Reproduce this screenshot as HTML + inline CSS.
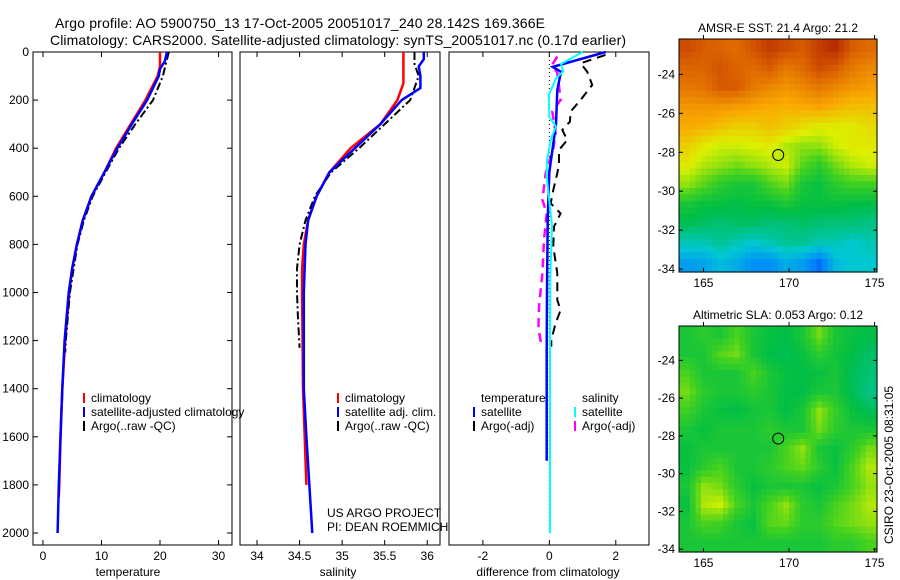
<!DOCTYPE html>
<html><head><meta charset="utf-8"><style>
html,body{margin:0;padding:0;background:#fff;}
svg{display:block;font-family:"Liberation Sans",sans-serif;}
</style></head><body>
<svg id="fig" width="900" height="580" viewBox="0 0 900 580"></svg>
<script>
// ---- profile data (depth arrays + value arrays) ----
const tClimDepth=[0,60,100,200,300,400,500,600,700,800,900,1000,1200,1400,1600,1800,1850];
const tClimVal=[20,20,19.6,17.5,15,12.5,10.5,8.3,6.8,5.8,5,4.5,3.8,3.3,3,2.8,2.7];
const tSatDepth=[0,40,70,100,200,300,400,500,600,700,800,900,1000,1200,1400,1600,1800,2000];
const tSatVal=[21.2,20.8,20,19.8,17.8,15.2,12.7,10.5,8.3,6.8,5.8,5,4.4,3.7,3.3,3,2.7,2.5];
const tArgoDepth=[0,100,200,300,400,500,600,700,800,1000,1200,1250];
const tArgoVal=[21.5,20.5,18.8,15.8,13,10.7,8.5,7,5.9,4.6,3.9,3.8];
const sClimDepth=[0,130,200,300,400,500,600,700,800,900,1000,1400,1800];
const sClimVal=[35.72,35.72,35.65,35.45,35.1,34.85,34.7,34.6,34.55,34.53,34.53,34.54,34.58];
const sSatDepth=[0,30,60,100,150,200,300,400,500,600,700,800,1000,1400,1600,2000];
const sSatVal=[35.96,35.96,35.9,35.92,35.92,35.7,35.45,35.15,34.85,34.7,34.6,34.57,34.55,34.55,34.58,34.65];
const sArgoDepth=[0,50,100,200,300,400,500,600,700,800,900,1000,1100,1230];
const sArgoVal=[35.85,35.85,35.9,35.8,35.5,35.2,34.87,34.68,34.57,34.5,34.47,34.47,34.48,34.5];
const dTSatDepth=[0,62,82,158,300,500,700,1000,1250,1700];
const dTSatVal=[1.7,0.1,0.35,0.24,0.2,0,-0.05,-0.07,-0.08,-0.08];
const dSSatDepth=[0,50,80,110,180,270,310,360,450,520,720,940,1200,2000];
const dSSatVal=[1.0,0.35,0.42,0.2,-0.02,0,0.2,0.05,-0.07,-0.08,0.08,0.03,0.02,0.02];
const dTArgoDepth=[12,47,82,137,199,248,290,324,366,407,463,504,574,629,671,726,809,920,1031,1073,1128,1197,1225];
const dTArgoVal=[1.69,0.94,1.14,1.29,0.94,0.64,0.62,0.39,0.54,0.29,0.29,0.24,0.12,0.04,0.34,0.14,0.12,0.24,0.24,0.34,0.19,0.06,0.06];
const dSArgoDepth=[19,52,87,142,199,248,338,400,504,615,671,781,920,1058,1150,1218];
const dSArgoVal=[0.24,0.09,0.24,0.29,0.34,0.09,0.19,0.12,-0.11,-0.21,-0.08,-0.16,-0.21,-0.31,-0.33,-0.24];
const depthTicks=[0,200,400,600,800,1000,1200,1400,1600,1800,2000];
const tempTicks=[0,10,20,30];
const salTicks=[34,34.5,35,35.5,36];
const diffTicks=[-2,0,2];
// ---- map data (rows = lat from -22.2 southwards, cols = lon 163.6..175.1) ----
const sstGrid=[
[.88,.86,.85,.84,.87,.9,.88,.86,.9,.92,.86,.84],
[.85,.85,.87,.85,.84,.86,.82,.84,.88,.86,.82,.80],
[.82,.83,.86,.86,.82,.8,.78,.8,.82,.8,.78,.77],
[.78,.78,.78,.77,.76,.75,.74,.75,.76,.74,.72,.72],
[.75,.74,.72,.7,.7,.72,.7,.68,.66,.66,.66,.68],
[.7,.66,.64,.64,.65,.66,.62,.6,.6,.64,.66,.66],
[.66,.62,.6,.58,.6,.62,.64,.56,.52,.58,.62,.64],
[.6,.56,.52,.5,.5,.55,.58,.5,.48,.52,.54,.54],
[.5,.48,.48,.47,.48,.48,.5,.48,.48,.48,.47,.47],
[.46,.45,.44,.45,.45,.44,.44,.45,.44,.44,.44,.43],
[.40,.40,.42,.40,.38,.4,.42,.42,.4,.4,.38,.4],
[.32,.33,.36,.34,.3,.3,.34,.32,.26,.36,.38,.38]];
const slaGrid=[
[.5,.52,.5,.55,.5,.48,.47,.5,.58,.5,.48,.47],
[.5,.5,.56,.58,.5,.47,.46,.48,.52,.49,.47,.45],
[.55,.5,.5,.5,.55,.5,.48,.47,.48,.5,.46,.44],
[.58,.52,.5,.5,.52,.5,.47,.47,.5,.5,.46,.43],
[.54,.5,.48,.47,.49,.5,.47,.5,.6,.53,.48,.46],
[.5,.48,.5,.5,.5,.52,.5,.5,.58,.52,.5,.5],
[.48,.5,.5,.5,.5,.5,.55,.6,.5,.48,.52,.58],
[.48,.52,.55,.5,.5,.52,.55,.57,.52,.48,.55,.62],
[.5,.6,.58,.52,.48,.5,.5,.5,.48,.5,.55,.6],
[.48,.62,.64,.55,.5,.55,.6,.52,.5,.55,.58,.62],
[.5,.55,.54,.5,.48,.56,.57,.52,.52,.56,.58,.6],
[.5,.5,.5,.5,.5,.5,.5,.5,.5,.52,.52,.55]];
const mapLon=[163.57,175.14], mapLat=[-22.18,-34.15];
const floatLon=169.366, floatLat=-28.142;
const lonTicks=[165,170,175];
const latTicks=[-24,-26,-28,-30,-32,-34];

const NS="http://www.w3.org/2000/svg";
const svg=document.getElementById('fig');
function el(tag,attrs,parent){const e=document.createElementNS(NS,tag);for(const k in attrs)e.setAttribute(k,attrs[k]);(parent||svg).appendChild(e);return e;}
function txt(x,y,s,size,anchor,parent){const t=el('text',{x:x,y:y,'font-size':size,'text-anchor':anchor||'start',fill:'#000'},parent);t.textContent=s;return t;}

const top0=52, pBottom=545;
const yD=d=>top0+d*0.2405;
const panels=[
 {name:'temperature-panel',x0:33,x1:232,vmin:-1.7,vmax:32.3,ticks:tempTicks,label:'temperature',lx:128},
 {name:'salinity-panel',x0:240,x1:440,vmin:33.8,vmax:36.15,ticks:salTicks,label:'salinity',lx:338},
 {name:'difference-panel',x0:449,x1:649,vmin:-3.02,vmax:3.0,ticks:diffTicks,label:'difference from climatology',lx:548}
];
panels.forEach(p=>{p.xs=v=>p.x0+(v-p.vmin)/(p.vmax-p.vmin)*(p.x1-p.x0);});

// titles
let t=txt(55,28,'Argo profile: AO 5900750_13 17-Oct-2005 20051017_240 28.142S 169.366E',14);
t.setAttribute('textLength','490');
t=txt(50,45,'Climatology: CARS2000. Satellite-adjusted climatology: synTS_20051017.nc (0.17d earlier)',14);
t.setAttribute('textLength','576');

panels.forEach((p,i)=>{
  const g=el('g',{});
  
  
  el('rect',{x:p.x0,y:top0,width:p.x1-p.x0,height:pBottom-top0,fill:'#fff',stroke:'#000','stroke-width':1},g);
  p.ticks.forEach(v=>{const x=p.xs(v);
    el('line',{x1:x,y1:pBottom,x2:x,y2:pBottom-5,stroke:'#000'},g);
    el('line',{x1:x,y1:top0,x2:x,y2:top0+5,stroke:'#000'},g);
    const tl=txt(x,560,String(v),12,'middle',g);
    
    
  });
  const xl=txt(p.lx,576,p.label,12,'middle',g);
  
  
  if(i===0){depthTicks.forEach(d=>{const y=yD(d);
    el('line',{x1:p.x0,y1:y,x2:p.x0+5,y2:y,stroke:'#000'},g);
    el('line',{x1:p.x1,y1:y,x2:p.x1-5,y2:y,stroke:'#000'},g);
    const yl=txt(p.x0-4,y+4,String(d),12,'end',g);
    
    
  });}
});
function line(p,D,V,color,w,dash,name){
  const pts=D.map((d,i)=>p.xs(V[i]).toFixed(1)+','+yD(d).toFixed(1)).join(' ');
  const l=el('polyline',{points:pts,fill:'none',stroke:color,'stroke-width':w});
  if(dash)l.setAttribute('stroke-dasharray',dash);
  
  
}
const [P1,P2,P3]=panels;
line(P1,tClimDepth,tClimVal,'#f00',2.5,null,'temp-climatology-line');
line(P1,tArgoDepth,tArgoVal,'#000',2,'8,3,2,3','temp-argo-line');
line(P1,tSatDepth,tSatVal,'#00f',2.5,null,'temp-satellite-line');
line(P2,sClimDepth,sClimVal,'#f00',2.5,null,'sal-climatology-line');
line(P2,sArgoDepth,sArgoVal,'#000',2,'8,3,2,3','sal-argo-line');
line(P2,sSatDepth,sSatVal,'#00f',2.5,null,'sal-satellite-line');
line(P3,[0,2000],[0,0],'#000',1,'1,3','zero-line');
line(P3,dTArgoDepth,dTArgoVal,'#000',2,'9,6','diff-temp-argo-line');
line(P3,dSArgoDepth,dSArgoVal,'#f0f',2.5,'9,6','diff-sal-argo-line');
line(P3,dTSatDepth,dTSatVal,'#00f',2.5,null,'diff-temp-satellite-line');
line(P3,dSSatDepth,dSSatVal,'#0ff',2,null,'diff-sal-satellite-line');

function legend(x,y,color,label){
  const g=el('g',{});
  
  
  el('line',{x1:x,y1:y-9,x2:x,y2:y+1,stroke:color,'stroke-width':2},g);
  txt(x+7,y,label,12,'start',g);
}
legend(84,402,'#f00','climatology');
legend(84,416,'#00f','satellite-adjusted climatology');
legend(84,430,'#000','Argo(..raw -QC)');
legend(338,402,'#f00','climatology');
legend(338,416,'#00f','satellite adj. clim.');
legend(338,430,'#000','Argo(..raw -QC)');
t=txt(481,402,'temperature',12);
t=txt(582,402,'salinity',12);
legend(474,416,'#00f','satellite');
legend(474,430,'#000','Argo(-adj)');
legend(575,416,'#0ff','satellite');
legend(575,430,'#f0f','Argo(-adj)');
t=txt(327,517,'US ARGO PROJECT',12);
t=txt(327,531,'PI: DEAN ROEMMICH',12);

// colormap
const stops=[[0.2,[0,60,230]],[0.28,[0,130,255]],[0.38,[0,200,210]],[0.47,[0,190,70]],[0.55,[70,210,30]],[0.65,[220,240,0]],[0.75,[250,170,0]],[0.85,[220,100,0]],[0.95,[170,20,0]]];
function cmap(v){if(v<=stops[0][0])return stops[0][1];for(let i=1;i<stops.length;i++){if(v<=stops[i][0]){const a=stops[i-1],b=stops[i],f=(v-a[0])/(b[0]-a[0]);return a[1].map((c,k)=>Math.round(c+(b[1][k]-c)*f));}}return stops[stops.length-1][1];}
function drawMap(grid,x0,y0,x1,y1,title,name){
  const g=el('g',{});
  
  
  const R=grid.length,C=grid[0].length,up=3,NR=R*up,NC=C*up;
  const cw=(x1-x0)/NC,ch=(y1-y0)/NR;
  for(let i=0;i<NR;i++)for(let j=0;j<NC;j++){
    const fi=Math.min(Math.max((i+0.5)/up-0.5,0),R-1),fj=Math.min(Math.max((j+0.5)/up-0.5,0),C-1);
    const i0=Math.floor(fi),j0=Math.floor(fj),i1=Math.min(i0+1,R-1),j1=Math.min(j0+1,C-1),a=fi-i0,b=fj-j0;
    const v=grid[i0][j0]*(1-a)*(1-b)+grid[i0][j1]*(1-a)*b+grid[i1][j0]*a*(1-b)+grid[i1][j1]*a*b;
    const c=cmap(v);
    const r=el('rect',{x:(x0+j*cw).toFixed(2),y:(y0+i*ch).toFixed(2),width:(cw+0.6).toFixed(2),height:(ch+0.6).toFixed(2),fill:`rgb(${c})`},g);
    
    
  }
  el('rect',{x:x0,y:y0,width:x1-x0,height:y1-y0,fill:'none',stroke:'#000'},g);
  const lx=v=>x0+(v-mapLon[0])/(mapLon[1]-mapLon[0])*(x1-x0);
  const ly=v=>y0+(v-mapLat[0])/(mapLat[1]-mapLat[0])*(y1-y0);
  lonTicks.forEach(v=>{const x=lx(v);
    el('line',{x1:x,y1:y1,x2:x,y2:y1-4,stroke:'#000'},g);
    el('line',{x1:x,y1:y0,x2:x,y2:y0-4,stroke:'#000'},g);
    txt(x,y1+15,String(v),12,'middle',g);});
  latTicks.forEach(v=>{const y=ly(v);
    el('line',{x1:x0,y1:y,x2:x0+4,y2:y,stroke:'#000'},g);
    el('line',{x1:x1,y1:y,x2:x1-4,y2:y,stroke:'#000'},g);
    txt(x0-4,y+4,String(v),12,'end',g);});
  const c=el('circle',{cx:lx(floatLon),cy:ly(floatLat),r:5.5,fill:'none',stroke:'#000','stroke-width':1},g);
  
  
  const tt=txt((x0+x1)/2,y0-7,title,12,'middle',g);
  
  
}
drawMap(sstGrid,679,39,877,272,'AMSR-E SST: 21.4 Argo: 21.2','sst-map');
drawMap(slaGrid,679,326,877,552,'Altimetric SLA: 0.053 Argo: 0.12','sla-map');
t=txt(0,0,'CSIRO 23-Oct-2005 08:31:05',12,'middle');
t.setAttribute('transform','translate(893,465) rotate(-90)');


</script>
</body></html>
